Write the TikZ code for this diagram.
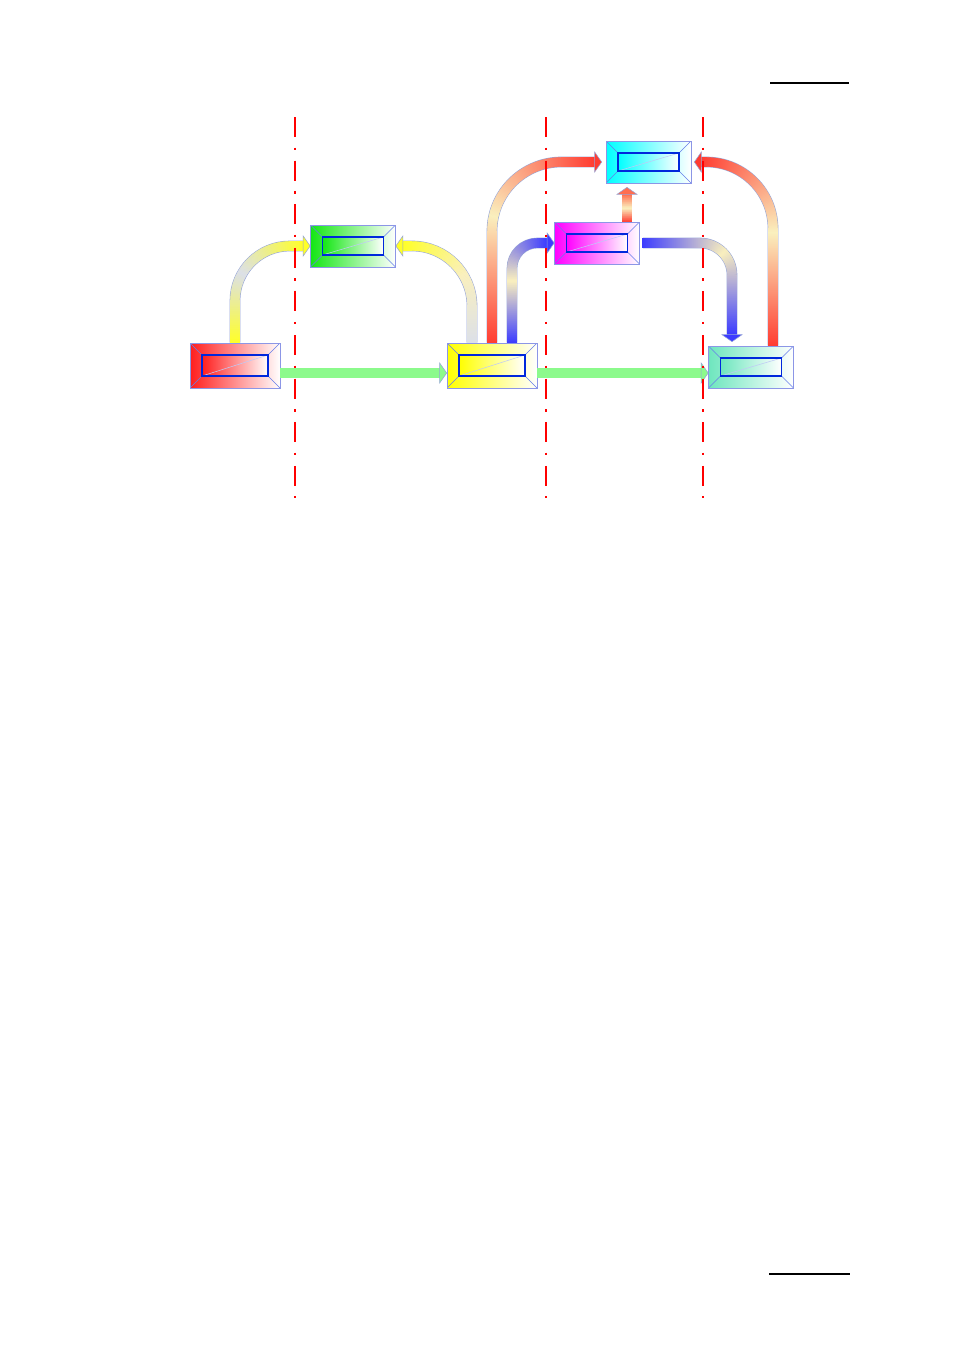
\documentclass[tikz,border=0pt]{standalone}
\usetikzlibrary{positioning}
\usetikzlibrary{calc}
\usetikzlibrary{decorations.markings}
\definecolor{flowred}{RGB}{255,60,50}
\definecolor{flowpale}{RGB}{250,240,190}
\definecolor{flowyellow}{RGB}{255,255,40}
\definecolor{flowgray}{RGB}{220,224,232}
\definecolor{flowblue}{RGB}{60,60,255}
\definecolor{flowgreen}{RGB}{140,250,140}
\definecolor{floworange}{RGB}{255,110,80}
\definecolor{flowline}{RGB}{150,165,215}
\definecolor{boxline}{RGB}{140,150,230}
\definecolor{boxblue}{RGB}{0,40,220}
\definecolor{boxred}{RGB}{255,30,30}
\definecolor{boxgreen}{RGB}{20,230,20}
\definecolor{boxyellow}{RGB}{255,255,0}
\definecolor{boxcyan}{RGB}{0,255,255}
\definecolor{boxmagenta}{RGB}{255,0,255}
\definecolor{boxteal}{RGB}{110,230,190}
\newcommand{\flowhead}[3]{\filldraw[draw=flowline, line width=0.4pt, fill=#3, shift={(#1)}, rotate=#2] (0,0) -- (-7,10) -- (-7,-10) -- cycle;}

\tikzset{
    flowbody/.style n args={3}{
        decorate,
        decoration={markings,
            mark=between positions 0 and 1 step 0.5pt with {
                \pgfmathsetmacro\flowfr{\pgfkeysvalueof{/pgf/decoration/mark info/distance from start}/\pgfdecoratedpathlength}
                \pgfmathsetmacro\flowa{max(min(200*\flowfr,100),0)}
                \pgfmathsetmacro\flowb{max(min(200*\flowfr-100,100),0)}
                \colorlet{flowtmp}{#2!\flowa!#1}
                \colorlet{flowcol}{#3!\flowb!flowtmp}
                \fill[flowcol, sharp corners] (-0.45pt,-3.5pt) rectangle (0.45pt,3.5pt);
            }}
    },
    flow/.style n args={3}{draw=flowline, line width=8pt, postaction={flowbody={#1}{#2}{#3}}},
    greenflow/.style={draw=flowline, line width=0.6pt, double=flowgreen, double distance=7pt},
    divider/.style={red, line width=1.9pt, dash pattern=on 15pt off 7.9pt on 1.9pt off 7.9pt},
    boxbevel/.style={boxblue!60, line width=0.35pt},
    boxdiag/.style={boxblue!25, line width=0.4pt},
    boxinner/.style={boxblue, line width=0.9pt},
    box/.style={rectangle, inner sep=0pt, draw=boxline, line width=0.5pt,
        minimum width=63.75pt, minimum height=31.5pt,
        left color=#1, right color=white,
        path picture={
            \draw[boxbevel] (path picture bounding box.south west) -- ++(12,12);
            \draw[boxbevel] (path picture bounding box.north west) -- ++(12,-12);
            \draw[boxbevel] (path picture bounding box.south east) -- ++(-12,12);
            \draw[boxbevel] (path picture bounding box.north east) -- ++(-12,-12);
            \shade[left color=#1, right color=white] ($(path picture bounding box.south west)+(12,12)$) rectangle ($(path picture bounding box.north east)+(-12,-12)$);
            \draw[boxdiag] ($(path picture bounding box.south west)+(12,12)$) -- ($(path picture bounding box.north east)+(-12,-12)$);
            \draw[boxinner] ($(path picture bounding box.south west)+(12,12)$) rectangle ($(path picture bounding box.north east)+(-12,-12)$);
        }},
    bigbox/.style={box=#1, minimum width=67.5pt, minimum height=33.75pt}
}

\begin{document}
\begin{tikzpicture}[x=0.75pt, y=0.75pt]
    \useasboundingbox (0,0) rectangle (954,-1350);
    % page rules
    \draw[line width=0.8pt] (770,-83) -- (849,-83);
    \draw[line width=0.8pt] (769,-1274) -- (850,-1274);

    % boxes
    \node[bigbox=boxred] (rbox) at (235,-365.5) {};
    \node[box=boxgreen] (gbox) at (353,-246) {};
    \node[bigbox=boxyellow] (ybox) at (492,-365.5) {};
    \node[box=boxcyan] (cbox) at (648.5,-162) {};
    \node[box=boxmagenta] (mbox) at (597,-243) {};
    \node[box=boxteal] (tbox) at (751,-367) {};

    % straight links
    \coordinate (ryS) at ($(rbox.east)+(0,-7.5)$);
    \coordinate (ryT) at (ybox.west |- ryS);
    \draw[greenflow] (ryS) -- ($(ryT)+(-7,0)$);
    \flowhead{ryT}{0}{flowgreen}
    \coordinate (ytS) at ($(ybox.east)+(0,-7.5)$);
    \coordinate (ytT) at (tbox.west |- ytS);
    \draw[greenflow] (ytS) -- ($(ytT)+(-7,0)$);
    \flowhead{ytT}{0}{flowgreen}

    % curved links
    \draw[flow={flowyellow}{flowgray}{flowyellow}, rounded corners=41pt] (rbox.north) |- ($(gbox.west)+(-7,0)$);
    \flowhead{gbox.west}{0}{flowyellow}
    \coordinate (ygS) at ($(ybox.north)+(-20,0)$);
    \draw[flow={flowgray}{flowpale}{flowyellow}, rounded corners=45pt] (ygS) |- ($(gbox.east)+(7,0)$);
    \flowhead{gbox.east}{180}{flowyellow}
    \coordinate (ycT) at ($(cbox.west)+(-4,0)$);
    \draw[flow={flowred}{flowpale}{flowred}, rounded corners=52pt] (ybox.north) |- ($(ycT)+(-7,0)$);
    \flowhead{ycT}{0}{flowred}
    \coordinate (ymS) at ($(ybox.north)+(20,0)$);
    \draw[flow={flowblue}{flowpale}{flowblue}, rounded corners=19pt] (ymS) |- ($(mbox.west)+(-7,0)$);
    \flowhead{mbox.west}{0}{flowblue}
    \coordinate (mcS) at ($(mbox.north)+(30,0)$);
    \coordinate (mcT) at ($(mcS |- cbox.south)+(0,-4)$);
    \draw[flow={flowred}{flowpale}{floworange}] (mcS) -- ($(mcT)+(0,-7)$);
    \flowhead{mcT}{90}{floworange}
    \coordinate (mtS) at ($(mbox.east)+(3,0)$);
    \coordinate (mtT) at ($(tbox.north)+(-19,4)$);
    \draw[flow={flowblue}{flowpale}{flowblue}, rounded corners=24pt] (mtS) -| ($(mtT)+(0,7)$);
    \flowhead{mtT}{-90}{flowblue}
    \coordinate (tcS) at ($(tbox.north)+(22,0)$);
    \coordinate (tcT) at ($(cbox.east)+(3,0)$);
    \draw[flow={flowred}{flowpale}{flowred}, rounded corners=50pt] (tcS) |- ($(tcT)+(7,0)$);
    \flowhead{tcT}{180}{flowred}

    % dividers
    \foreach \x in {295,546,703} {
        \draw[divider] (\x,-117) -- (\x,-498);
    }
\end{tikzpicture}
\end{document}
